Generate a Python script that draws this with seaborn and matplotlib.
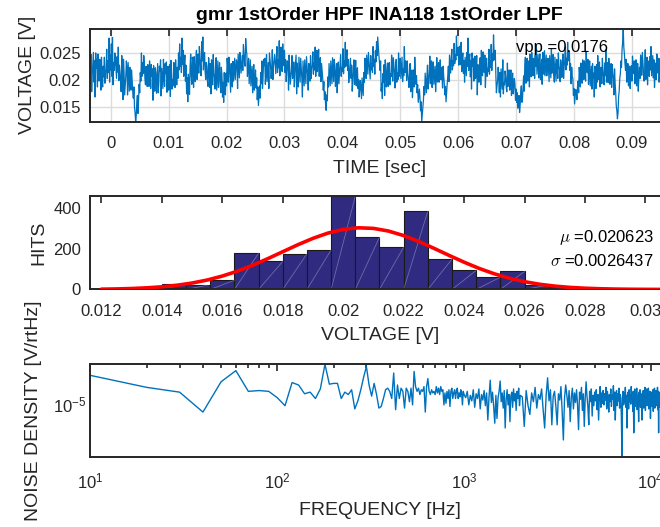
import numpy as np
import pandas as pd
import matplotlib
matplotlib.use("Agg")
import matplotlib.pyplot as plt
import matplotlib.ticker as mticker
import seaborn as sns

TITLE = "gmr 1stOrder HPF INA118 1stOrder LPF"

# --- time trace: one sample every 0.1 ms, values in 0.1 mV
T_START = -0.0035
T_STEP = 0.0001
voltage_01mv = [
    205, 248, 178, 209, 231, 252, 196, 237, 168, 251, 222, 239, 187, 249, 214, 198, 239, 226, 181, 243, 201, 187, 226, 206, 243,
    194, 212, 221, 258, 203, 236, 214, 279, 196, 247, 219, 268, 207, 280, 191, 233, 218, 251, 238, 219, 203, 244, 215, 262, 199,
    228, 213, 197, 178, 246, 221, 163, 239, 214, 172, 189, 208, 236, 221, 172, 233, 205, 179, 224, 206, 181, 219, 198, 178, 166,
    187, 149, 138, 121, 133, 158, 171, 137, 162, 192, 176, 214, 198, 251, 207, 233, 212, 246, 229, 203, 191, 226, 214, 188, 229,
    211, 188, 236, 217, 184, 229, 207, 221, 162, 227, 198, 179, 223, 212, 175, 203, 231, 176, 194, 226, 216, 238, 170, 222, 203,
    184, 239, 207, 188, 231, 212, 234, 177, 195, 226, 181, 195, 229, 169, 237, 218, 183, 201, 189, 233, 219, 186, 238, 209, 191,
    224, 203, 251, 219, 268, 226, 243, 214, 279, 229, 256, 207, 231, 247, 198, 228, 174, 205, 159, 211, 197, 173, 225, 249, 208,
    192, 243, 227, 186, 244, 217, 197, 238, 256, 201, 222, 249, 213, 263, 241, 226, 208, 272, 236, 281, 219, 244, 252, 215, 201,
    233, 226, 197, 188, 242, 223, 186, 231, 174, 238, 219, 191, 248, 214, 203, 183, 227, 242, 181, 207, 236, 186, 209, 233, 192,
    176, 224, 209, 168, 196, 158, 214, 185, 172, 213, 189, 241, 226, 196, 243, 228, 204, 177, 231, 206, 187, 235, 198, 219, 241,
    201, 219, 238, 232, 184, 249, 226, 204, 252, 237, 213, 229, 246, 218, 267, 249, 231, 226, 278, 257, 249, 207, 222, 241, 193,
    216, 238, 189, 207, 226, 176, 212, 229, 181, 198, 219, 185, 204, 163, 187, 152, 171, 189, 166, 214, 193, 236, 184, 205, 239,
    227, 241, 192, 214, 248, 197, 216, 233, 184, 251, 239, 226, 203, 219, 257, 201, 226, 237, 248, 229, 212, 241, 263, 214, 238,
    223, 274, 208, 251, 262, 229, 216, 268, 227, 243, 256, 214, 238, 197, 221, 236, 229, 181, 247, 223, 192, 205, 218, 246, 203,
    212, 234, 187, 214, 231, 247, 174, 232, 205, 187, 243, 219, 196, 241, 222, 203, 168, 236, 214, 189, 238, 217, 193, 244, 227,
    209, 181, 231, 209, 198, 246, 203, 221, 228, 253, 211, 232, 219, 262, 207, 241, 256, 216, 234, 258, 207, 229, 242, 197, 231,
    218, 204, 181, 197, 163, 178, 154, 143, 172, 161, 206, 187, 231, 208, 189, 236, 214, 193, 242, 218, 197, 239, 226, 188, 205,
    231, 176, 209, 234, 193, 211, 226, 248, 207, 223, 216, 259, 212, 236, 224, 271, 226, 244, 257, 218, 239, 195, 213, 227, 241,
    203, 228, 179, 197, 221, 238, 192, 211, 237, 189, 208, 223, 184, 201, 168, 186, 199, 182, 165, 204, 186, 171, 214, 196, 241,
    224, 203, 247, 229, 211, 252, 236, 218, 202, 246, 219, 231, 214, 263, 226, 239, 211, 255, 234, 272, 246, 281, 263, 247, 234,
    218, 236, 179, 194, 165, 212, 196, 229, 171, 238, 224, 187, 206, 232, 188, 219, 233, 191, 212, 206, 247, 229, 198, 242, 226,
    213, 185, 226, 239, 196, 214, 201, 251, 207, 228, 241, 203, 224, 243, 197, 221, 208, 263, 214, 236, 231, 199, 236, 214, 203,
    186, 204, 231, 178, 204, 219, 167, 196, 219, 187, 243, 213, 192, 208, 176, 191, 158, 171, 183, 166, 142, 159, 121, 134, 149,
    163, 188, 172, 213, 196, 176, 207, 228, 183, 197, 214, 245, 193, 221, 236, 186, 219, 234, 192, 209, 226, 178, 207, 242, 196,
    215, 233, 196, 214, 238, 201, 224, 209, 185, 226, 207, 193, 172, 188, 159, 177, 193, 208, 226, 197, 247, 231, 213, 241, 258,
    219, 236, 227, 269, 231, 247, 238, 283, 246, 251, 262, 228, 239, 264, 229, 271, 216, 239, 251, 213, 237, 196, 243, 224, 208,
    252, 226, 279, 218, 241, 249, 206, 237, 183, 251, 226, 241, 198, 219, 245, 203, 219, 246, 172, 229, 208, 196, 234, 242, 191,
    256, 227, 208, 253, 229, 214, 247, 186, 223, 241, 207, 222, 216, 258, 211, 236, 224, 267, 218, 249, 236, 285, 251, 238, 256,
    211, 176, 189, 198, 224, 209, 176, 214, 168, 221, 203, 183, 238, 174, 195, 191, 217, 206, 186, 178, 232, 188, 207, 219, 181,
    203, 219, 171, 196, 213, 174, 186, 203, 192, 162, 183, 158, 176, 147, 164, 171, 139, 153, 176, 189, 158, 164, 187, 208, 179,
    226, 243, 194, 221, 241, 198, 213, 236, 187, 249, 235, 206, 252, 219, 208, 241, 229, 203, 247, 226, 266, 211, 231, 248, 204,
    232, 249, 201, 218, 239, 192, 252, 237, 211, 255, 208, 226, 247, 208, 229, 241, 218, 197, 246, 223, 204, 259, 213, 236, 248,
    212, 196, 243, 221, 198, 239, 227, 203, 251, 226, 219, 197, 238, 229, 205, 221, 249, 203, 226, 236, 262, 219, 241, 228, 271,
    236, 247, 254, 218, 231, 193, 224, 206, 203, 171, 184, 155, 169, 182, 178, 163, 187, 198, 176, 224, 209, 187, 232, 216, 194,
    238, 224, 201, 236, 225, 198, 253, 227, 214, 239, 192, 211, 236, 189, 209, 226, 183, 231, 204, 213, 168, 226, 197, 184, 229,
    196, 246, 201, 213, 234, 187, 219, 224, 193, 241, 218, 206, 191, 232, 208, 257, 196, 219, 233, 195, 241, 228, 192, 204, 231,
    186, 229, 213, 203, 172, 221, 194, 176, 151, 143, 127, 138, 168, 179, 203, 211, 236, 224, 258, 271, 297, 262, 249, 231, 218,
    239, 196, 207, 231, 189, 208, 226, 184, 213, 227, 198, 245, 221, 212, 236, 193, 204, 238, 189, 216, 231, 179, 207, 224, 203,
    247, 231, 209, 252, 235, 219, 198, 214, 257, 201, 226, 243, 191, 236, 218, 207, 244, 219, 263, 208, 227, 246, 204, 238, 186,
    213, 232, 201, 249, 234, 213, 241, 196, 228, 241, 204, 262, 211, 228, 249, 207, 236, 184, 243, 219, 201, 236, 247, 211, 224,
]
VPP = 0.0176

# --- histogram + normal fit
bin_edges = [0.0124, 0.0132, 0.0140, 0.0148, 0.0156, 0.0164, 0.0172, 0.0180, 0.0188, 0.0196, 0.0204,
             0.0212, 0.0220, 0.0228, 0.0236, 0.0244, 0.0252, 0.0260, 0.0268, 0.0276, 0.0284, 0.0292]
hits = [2, 5, 28, 24, 45, 177, 137, 174, 193, 455, 255, 206, 382, 148, 93, 60, 88, 22, 12, 8, 3]
fit_voltage = np.linspace(0.012, 0.031, 39)
fit_hits = [1.5, 2.7, 4.7, 8.0, 13.1, 20.7, 31.5, 46.2, 65.5, 89.5,
            118.1, 150.3, 184.6, 218.8, 250.1, 276.0, 293.7, 301.7, 298.9, 285.8,
            263.7, 234.7, 201.6, 167.0, 133.6, 103.0, 76.7, 55.1, 38.2, 25.5,
            16.5, 10.2, 6.2, 3.6, 2.0, 1.1, 0.6, 0.3, 0.2]
MU = 0.020623
SIGMA = 0.0026437

# --- noise density, dB re 1 V/rtHz
freq_low = np.arange(10, 1001, 10)
density_low_db = [
    -96.4, -97.9, -98.5, -101.0, -97.2, -95.8, -98.4, -98.3, -98.4, -99.2,
    -100.2, -97.3, -97.6, -98.7, -98.5, -99.3, -98.1, -95.0, -97.5, -97.4,
    -97.4, -99.3, -98.5, -98.8, -98.2, -100.6, -99.6, -98.2, -96.6, -95.3,
    -97.6, -99.0, -97.4, -98.8, -100.5, -100.3, -99.3, -98.2, -98.0, -98.4,
    -99.3, -96.1, -100.7, -97.6, -99.3, -98.0, -98.4, -100.5, -98.0, -98.4,
    -99.7, -98.0, -100.1, -95.9, -97.8, -98.4, -98.0, -98.8, -98.2, -98.4,
    -97.8, -101.0, -97.8, -96.8, -98.4, -98.8, -98.2, -98.6, -98.4, -98.8,
    -97.8, -98.6, -98.0, -98.8, -97.8, -98.4, -98.2, -100.1, -98.6, -99.9,
    -98.4, -99.3, -98.2, -100.3, -98.4, -98.0, -99.3, -98.6, -98.2, -99.3,
    -98.4, -98.0, -99.3, -98.6, -99.1, -98.2, -98.6, -100.1, -98.4, -98.8,
]
freq_mid = np.arange(1020, 2001, 20)
density_mid_db = [
    -99.2, -98.4, -100.1, -98.9, -99.6, -98.2, -100.4, -98.7, -99.3, -98.1,
    -100.6, -98.8, -99.5, -98.3, -100.2, -98.6, -102.0, -99.1, -97.0, -99.8,
    -98.5, -100.3, -102.4, -98.9, -101.8, -99.2, -98.4, -97.1, -99.7, -98.6,
    -100.5, -98.3, -103.0, -99.4, -98.2, -100.1, -98.8, -102.2, -99.0, -98.5,
    -100.4, -98.1, -99.6, -98.7, -100.8, -98.4, -99.3, -98.0, -100.2, -98.9,
]
freq_high = np.arange(2050, 12501, 50)
density_high_db = [
    -99.1, -102.8, -98.3, -100.2, -101.3, -98.6, -99.7, -97.9, -100.5, -98.8,
    -99.4, -98.1, -100.7, -103.0, -98.9, -96.7, -99.6, -98.2, -102.6, -99.0,
    -98.4, -100.3, -102.6, -98.7, -99.5, -97.8, -100.9, -104.5, -99.2, -97.6,
    -98.9, -100.4, -98.3, -102.2, -99.1, -98.0, -100.6, -98.6, -99.8, -98.2,
    -100.1, -103.2, -98.5, -99.4, -97.9, -100.8, -98.7, -102.8, -99.3, -97.2,
    -99.0, -100.3, -102.6, -98.4, -99.7, -98.1, -101.5, -98.9, -100.2, -98.5,
    -99.6, -98.2, -100.7, -98.8, -102.0, -99.1, -97.8, -100.4, -98.6, -99.9,
    -98.3, -100.1, -98.7, -99.5, -97.9, -100.6, -98.4, -99.2, -101.0, -98.8,
    -99.7, -98.1, -100.3, -98.9, -99.4, -97.7, -100.8, -98.5, -102.0, -99.0,
    -98.3, -100.2, -98.7, -99.6, -98.0, -100.5, -98.8, -99.3, -101.4, -106.7,
    -99.1, -98.4, -100.1, -98.6, -99.8, -97.9, -100.4, -98.9, -103.0, -99.2,
    -98.5, -100.6, -98.2, -99.7, -98.8, -100.0, -97.8, -99.4, -98.6, -100.9,
    -98.4, -103.6, -99.0, -98.1, -100.3, -98.7, -99.5, -98.0, -100.7, -98.9,
    -99.3, -102.2, -98.5, -99.9, -98.2, -100.4, -98.8, -99.6, -102.0, -98.6,
    -99.8, -98.3, -100.5, -98.9, -99.2, -97.9, -100.8, -98.6, -99.5, -98.1,
    -100.2, -98.7, -99.4, -98.0, -100.6, -98.8, -99.7, -98.4, -101.8, -99.1,
    -98.5, -100.3, -98.9, -99.6, -98.2, -100.9, -98.7, -99.3, -98.0, -100.5,
    -98.6, -99.8, -98.3, -100.2, -98.9, -99.5, -97.9, -100.7, -98.4, -103.6,
    -99.0, -98.5, -100.4, -98.8, -99.7, -98.1, -100.1, -98.6, -99.4, -98.3,
    -100.6, -98.9, -99.2, -98.0, -100.3, -98.7, -99.8, -98.4, -101.2, -99.0,
    -98.6, -100.0, -98.2, -99.5, -98.9, -100.4, -98.5, -99.7, -98.3, -99.9,
]

BLUE = "#0072BD"
BAR = "#302b80"
DARK = "#262626"


def style_axes(ax, xpad=10.4, ypad=6.8):
    for s in ax.spines.values():
        s.set_color(DARK)
        s.set_linewidth(1.4)
    ax.tick_params(which="both", direction="in", top=True, right=True,
                   colors=DARK, labelsize=12, width=1.2)
    ax.tick_params(which="major", length=5)
    ax.tick_params(which="minor", length=3)
    ax.tick_params(axis="x", pad=xpad)
    ax.tick_params(axis="y", pad=ypad)
    ax.xaxis.label.set_color(DARK)
    ax.yaxis.label.set_color(DARK)


def main():
    sns.set_style("white")
    plt.rcParams["font.family"] = ["Liberation Sans", "DejaVu Sans"]
    plt.rcParams["mathtext.fontset"] = "cm"

    fig = plt.figure(figsize=(6.6, 5.27), dpi=100)
    left, width = 0.1371, 0.8765
    ax1 = fig.add_axes([left, 0.7685, width, 0.1774])
    ax2 = fig.add_axes([left, 0.4507, width, 0.1765])
    ax3 = fig.add_axes([left, 0.1319, width, 0.1769])

    # Panel 1: time trace
    volts = np.array(voltage_01mv) * 1e-4
    t = T_START + T_STEP * np.arange(len(volts))
    sns.lineplot(x=t, y=volts, ax=ax1, color=BLUE, linewidth=0.9, estimator=None, sort=False)
    ax1.set_xlim(t[0], t[-1])
    ax1.set_ylim(volts.min(), volts.max())
    ax1.set_xticks([0, 0.01, 0.02, 0.03, 0.04, 0.05, 0.06, 0.07, 0.08, 0.09])
    ax1.set_yticks([0.015, 0.02, 0.025])
    fmt = mticker.FuncFormatter(lambda v, p: f"{v:g}")
    ax1.xaxis.set_major_formatter(fmt)
    ax1.yaxis.set_major_formatter(fmt)
    ax1.grid(True, color="#dcdcdc", linewidth=1.0)
    ax1.set_axisbelow(True)
    ax1.set_title(TITLE, fontsize=14, fontweight="bold", color="black", pad=6)
    ax1.set_xlabel("TIME [sec]", fontsize=14)
    ax1.set_ylabel("VOLTAGE [V]", fontsize=14)
    ax1.text(0.735, 0.748, f"vpp ={VPP:g}", transform=ax1.transAxes,
             fontsize=12, ha="left", va="baseline", color="black")
    style_axes(ax1)

    # Panel 2: histogram with normal fit
    edges = np.array(bin_edges)
    hist_df = pd.DataFrame({"voltage": (edges[:-1] + edges[1:]) / 2, "hits": hits})
    sns.histplot(data=hist_df, x="voltage", weights="hits", bins=bin_edges, ax=ax2,
                 color=BAR, edgecolor="#1a1a1a", linewidth=0.8, alpha=1)
    for lo, hi, h in zip(edges[:-1], edges[1:], hits):
        ax2.plot([lo, hi], [0, h], color="white", alpha=0.3, linewidth=0.6, zorder=2.5)
    sns.lineplot(x=fit_voltage, y=fit_hits, ax=ax2, color="red", linewidth=2.6)
    ax2.lines[-1].set_zorder(3)
    ax2.set_xlim(0.01164, 0.03078)
    ax2.set_ylim(0, max(hits))
    ax2.set_xticks([0.012, 0.014, 0.016, 0.018, 0.02, 0.022, 0.024, 0.026, 0.028, 0.03])
    ax2.set_yticks([0, 200, 400])
    ax2.xaxis.set_major_formatter(fmt)
    ax2.set_xlabel("VOLTAGE [V]", fontsize=14)
    ax2.set_ylabel("HITS", fontsize=14)
    ax2.text(0.974, 0.511, rf"$\mu$ ={MU}", transform=ax2.transAxes,
             fontsize=12, ha="right", va="baseline", color="black")
    ax2.text(0.974, 0.255, rf"$\sigma$ ={SIGMA}", transform=ax2.transAxes,
             fontsize=12, ha="right", va="baseline", color="black")
    style_axes(ax2)

    # Panel 3: noise density
    freqs = np.concatenate([freq_low, freq_mid, freq_high])
    dens_db = np.array(density_low_db + density_mid_db + density_high_db)
    density = 10 ** (dens_db / 20)
    ax3.set_xscale("log")
    ax3.set_yscale("log")
    sns.lineplot(x=freqs, y=density, ax=ax3, color=BLUE, linewidth=1.0, estimator=None, sort=False)
    ax3.set_xlim(10, 12500)
    ax3.set_ylim(density.min(), density.max())
    ax3.xaxis.set_major_locator(mticker.LogLocator(base=10))
    ax3.xaxis.set_major_formatter(mticker.LogFormatterMathtext())
    ax3.xaxis.set_minor_locator(mticker.LogLocator(base=10, subs=np.arange(2, 10)))
    ax3.xaxis.set_minor_formatter(mticker.NullFormatter())
    ax3.yaxis.set_major_locator(mticker.FixedLocator([1e-5]))
    ax3.yaxis.set_major_formatter(mticker.LogFormatterMathtext())
    ax3.yaxis.set_minor_locator(mticker.NullLocator())
    ax3.yaxis.set_minor_formatter(mticker.NullFormatter())
    ax3.set_xlabel("FREQUENCY [Hz]", fontsize=14)
    ax3.set_ylabel("NOISE DENSITY [V/rtHz]", fontsize=14)
    style_axes(ax3, xpad=10.2, ypad=2.9)

    ax1.xaxis.set_label_coords(0.5, -0.406)
    ax2.xaxis.set_label_coords(0.5, -0.400)
    ax3.xaxis.set_label_coords(0.5, -0.474)
    ax1.yaxis.set_label_coords(-0.095, 0.5)
    ax2.yaxis.set_label_coords(-0.0747, 0.5)
    ax3.yaxis.set_label_coords(-0.0844, 0.5)

    fig.savefig("out.png", dpi=100)
    plt.close(fig)


if __name__ == "__main__":
    main()
